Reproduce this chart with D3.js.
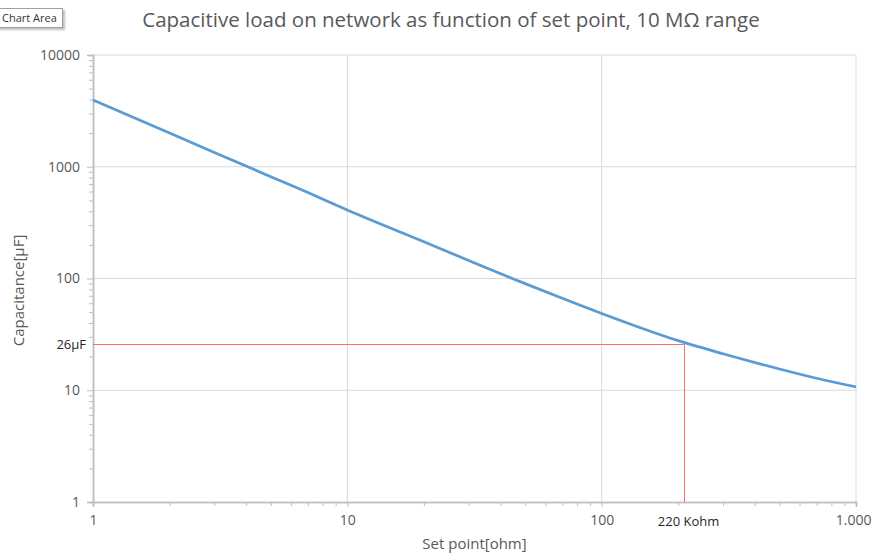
<!DOCTYPE html>
<html>
<head>
<meta charset="utf-8">
<script src="https://cdn.jsdelivr.net/npm/d3@7"></script>
<style>
  body { margin: 0; background: #fff; }
  #viz { position: relative; width: 872px; height: 553px; overflow: hidden; }
  .tip {
    position: absolute; left: -4px; top: 8px; padding: 1px 5px 2px 5px;
    font: 11px "Open Sans", sans-serif; color: #333; background: #fff;
    border: 1px solid #a0a0a0; box-shadow: 2px 2px 2px rgba(0,0,0,0.25);
  }
</style>
</head>
<body>
<div id="viz"><div class="tip">Chart Area</div></div>
<script>
// set point (x) and capacitance in µF (y)
const setPoints = [1, 2, 3, 5, 7, 10, 20, 30, 50, 70, 100, 200, 300, 500, 700, 1000];
const capacitance = [3950, 2000, 1344, 815, 588, 410, 213, 145, 90, 66.6, 48.7, 27.8, 21.2, 15.5, 12.8, 10.7];

const xTicks = [1, 10, 100, 1000];
const xTickLabels = ["1", "10", "100", "1.000"];
const yTicks = [1, 10, 100, 1000, 10000];

// marker
const markerX = 210;
const markerY = 26;
const markerYLabel = "26µF";
const markerXLabel = "220 Kohm";

const margin = { top: 55, right: 16, bottom: 51, left: 93 };
const width = 872 - margin.left - margin.right;
const height = 553 - margin.top - margin.bottom;
const font = "'Open Sans', sans-serif";
const grey = "#595959";

const svg = d3.select("#viz").append("svg")
  .attr("width", 872)
  .attr("height", 553)
  .style("position", "absolute")
  .style("left", 0).style("top", 0)
  .style("z-index", 0);
d3.select(".tip").style("z-index", 1);

const g = svg.append("g")
  .attr("transform", `translate(${margin.left},${margin.top})`);

svg.append("text")
  .attr("x", 451)
  .attr("y", 27)
  .attr("text-anchor", "middle")
  .style("font-family", font)
  .style("font-size", "20.5px")
  .style("fill", grey)
  .text("Capacitive load on network as function of set point, 10 MΩ range");

const x = d3.scaleLog().domain([1, 1000]).range([0, width]);
const y = d3.scaleLog().domain([1, 10000]).range([height, 0]);

// minor tick values
const minorX = [];
for (let d = 1; d < 1000; d *= 10) for (let k = 2; k <= 9; k++) minorX.push(d * k);
const minorY = [];
for (let d = 1; d < 10000; d *= 10) for (let k = 2; k <= 9; k++) minorY.push(d * k);

// gridlines
g.selectAll(".gx").data(xTicks.slice(1)).enter().append("line")
  .attr("x1", d => x(d)).attr("x2", d => x(d))
  .attr("y1", 0).attr("y2", height)
  .attr("stroke", "#d9d9d9").attr("stroke-width", 1);
g.selectAll(".gy").data(yTicks.slice(1)).enter().append("line")
  .attr("x1", 0).attr("x2", width)
  .attr("y1", d => y(d)).attr("y2", d => y(d))
  .attr("stroke", "#d9d9d9").attr("stroke-width", 1);

// axes
const xAxis = g.append("g")
  .attr("transform", `translate(0,${height})`)
  .call(d3.axisBottom(x).tickValues(xTicks).tickFormat((d, i) => xTickLabels[i]).tickSize(5).tickPadding(8));
const xMinor = g.append("g")
  .attr("transform", `translate(0,${height})`)
  .call(d3.axisBottom(x).tickValues(minorX).tickFormat("").tickSize(4));
const yAxis = g.append("g")
  .call(d3.axisLeft(y).tickValues(yTicks).tickFormat(d3.format("d")).tickSize(6).tickPadding(7));
const yMinor = g.append("g")
  .call(d3.axisLeft(y).tickValues(minorY).tickFormat("").tickSize(4));

[xAxis, xMinor, yAxis, yMinor].forEach(a => {
  a.select(".domain").attr("stroke", "#bfbfbf").attr("stroke-width", 1.5);
  a.selectAll(".tick line").attr("stroke", "#bfbfbf");
  a.selectAll(".tick text")
    .style("font-family", font).style("font-size", "14px").style("fill", grey);
});
// last x label sits at the right edge; keep it inside the window
xAxis.selectAll(".tick text").filter(d => d === 1000)
  .attr("text-anchor", "end").attr("dx", 15);

// data curve
const points = setPoints.map((v, i) => [v, capacitance[i]]);
g.append("path")
  .datum(points)
  .attr("fill", "none")
  .attr("stroke", "#5b9bd5")
  .attr("stroke-width", 2.75)
  .attr("d", d3.line().x(d => x(d[0])).y(d => y(d[1])).curve(d3.curveMonotoneX));

// marker lines, snapped to the pixel grid
const mx = Math.round(x(markerX)) + 0.5;
const my = Math.round(y(markerY)) + 0.5;
g.append("line")
  .attr("x1", 0).attr("x2", mx)
  .attr("y1", my).attr("y2", my)
  .attr("stroke", "#ff6b6b").attr("stroke-width", 1);
g.append("line")
  .attr("x1", mx).attr("x2", mx)
  .attr("y1", my).attr("y2", height)
  .attr("stroke", "#ff6b6b").attr("stroke-width", 1);

g.append("text")
  .attr("x", -7).attr("y", my).attr("dy", "0.35em")
  .attr("text-anchor", "end")
  .style("font-family", font).style("font-size", "13px").style("fill", "#262626")
  .text(markerYLabel);
g.append("text")
  .attr("x", mx + 4).attr("y", height + 24)
  .attr("text-anchor", "middle")
  .style("font-family", font).style("font-size", "13px").style("fill", "#262626")
  .text(markerXLabel);

// axis titles
svg.append("text")
  .attr("transform", `translate(24,${margin.top + height / 2 + 12}) rotate(-90)`)
  .attr("text-anchor", "middle")
  .style("font-family", font).style("font-size", "15px").style("fill", grey)
  .text("Capacitance[µF]");
svg.append("text")
  .attr("x", margin.left + width / 2)
  .attr("y", 549)
  .attr("text-anchor", "middle")
  .style("font-family", font).style("font-size", "15px").style("fill", grey)
  .text("Set point[ohm]");
</script>
</body>
</html>
